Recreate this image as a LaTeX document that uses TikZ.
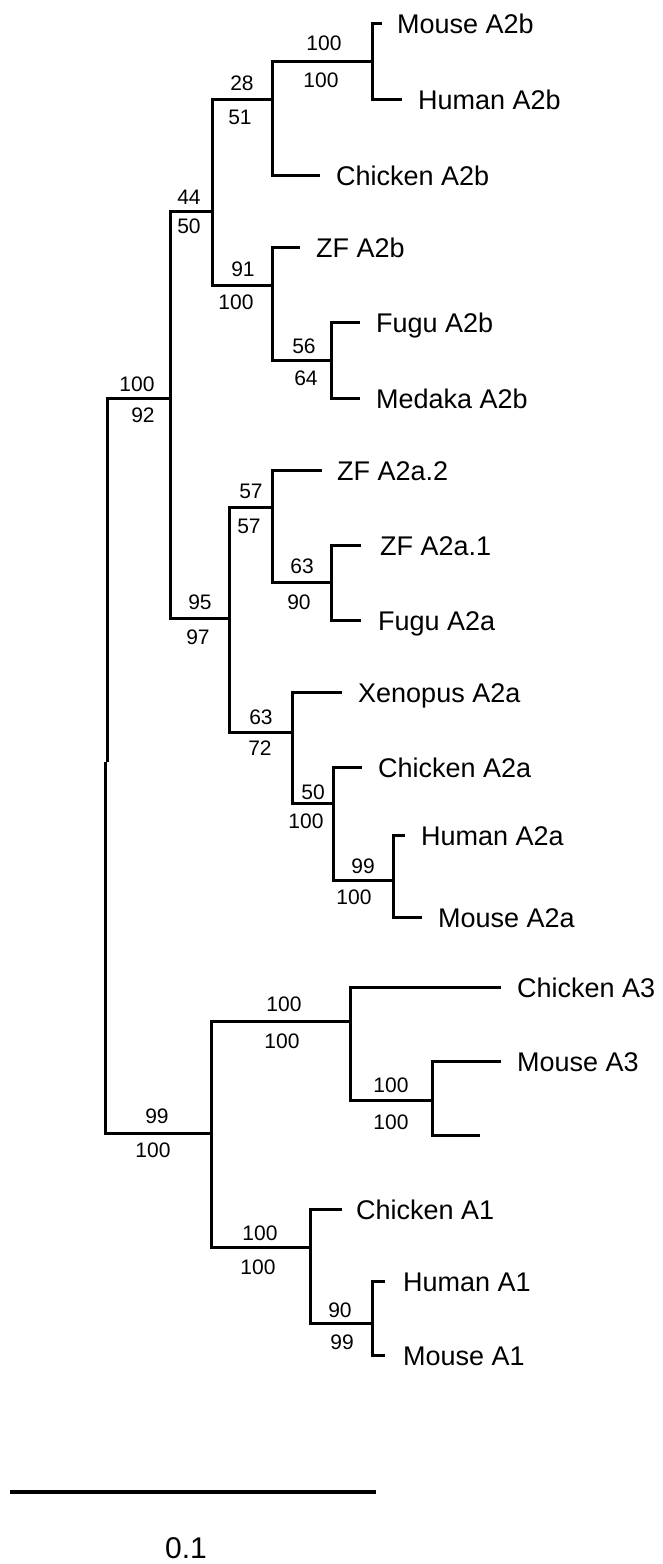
\documentclass[tikz,border=0pt]{standalone}
\usepackage{fontspec}
\setmainfont{Liberation Sans}
\begin{document}
\begin{tikzpicture}[x=1pt,y=-1pt,
  branch/.style={line width=3pt, line join=miter},
  taxon/.style={anchor=base west, inner sep=0pt, font=\fontsize{27}{30}\selectfont},
  boot/.style={anchor=base, inner sep=0pt, font=\fontsize{21}{24}\selectfont}]
\useasboundingbox (0,0) rectangle (663,1564);
% internal nodes
\coordinate (Ra) at (107,762);
\coordinate (Rb) at (105,762);
\coordinate (N1) at (170,398);
\coordinate (N2) at (212,211);
\coordinate (N3) at (272,99);
\coordinate (N4) at (372,61);
\coordinate (N5) at (272,285);
\coordinate (N6) at (331,360);
\coordinate (N8) at (229,618);
\coordinate (N9) at (272,507);
\coordinate (N10) at (331,582);
\coordinate (N11) at (292,732);
\coordinate (N12) at (333,803);
\coordinate (N13) at (393,880);
\coordinate (N14) at (211,1133);
\coordinate (N15) at (350,1021);
\coordinate (N16) at (432,1100);
\coordinate (N17) at (310,1247);
\coordinate (N18) at (372,1323);
% leaves
\coordinate (L1) at (382,23);
\coordinate (L2) at (402,99);
\coordinate (L3) at (320,175);
\coordinate (L4) at (300,247);
\coordinate (L5) at (360,322);
\coordinate (L6) at (360,398);
\coordinate (L7) at (322,470);
\coordinate (L8) at (361,545);
\coordinate (L9) at (361,620);
\coordinate (L10) at (342,692);
\coordinate (L11) at (362,767);
\coordinate (L12) at (405,835);
\coordinate (L13) at (422,917);
\coordinate (L14) at (501,987);
\coordinate (L15) at (501,1061);
\coordinate (L16) at (480,1135);
\coordinate (L17) at (342,1209);
\coordinate (L18) at (385,1281);
\coordinate (L19) at (385,1355);
% branches
\draw[branch] (Ra) |- (N1);
\draw[branch] (Rb) |- (N14);
\draw[branch] (N1) |- (N2);
\draw[branch] (N1) |- (N8);
\draw[branch] (N2) |- (N3);
\draw[branch] (N2) |- (N5);
\draw[branch] (N3) |- (N4);
\draw[branch] (N3) |- (L3);
\draw[branch] (N4) |- (L1);
\draw[branch] (N4) |- (L2);
\draw[branch] (N5) |- (L4);
\draw[branch] (N5) |- (N6);
\draw[branch] (N6) |- (L5);
\draw[branch] (N6) |- (L6);
\draw[branch] (N8) |- (N9);
\draw[branch] (N8) |- (N11);
\draw[branch] (N9) |- (L7);
\draw[branch] (N9) |- (N10);
\draw[branch] (N10) |- (L8);
\draw[branch] (N10) |- (L9);
\draw[branch] (N11) |- (L10);
\draw[branch] (N11) |- (N12);
\draw[branch] (N12) |- (L11);
\draw[branch] (N12) |- (N13);
\draw[branch] (N13) |- (L12);
\draw[branch] (N13) |- (L13);
\draw[branch] (N14) |- (N15);
\draw[branch] (N14) |- (N17);
\draw[branch] (N15) |- (L14);
\draw[branch] (N15) |- (N16);
\draw[branch] (N16) |- (L15);
\draw[branch] (N16) |- (L16);
\draw[branch] (N17) |- (L17);
\draw[branch] (N17) |- (N18);
\draw[branch] (N18) |- (L18);
\draw[branch] (N18) |- (L19);
% taxon labels
\node[taxon] (t1) at ([shift={(15,10)}]L1) {Mouse A2b};
\node[taxon] (t2) at ([shift={(16,10)}]L2) {Human A2b};
\node[taxon] (t3) at ([shift={(16,10)}]L3) {Chicken A2b};
\node[taxon] (t4) at ([shift={(16,10)}]L4) {ZF A2b};
\node[taxon] (t5) at ([shift={(16,10)}]L5) {Fugu A2b};
\node[taxon] (t6) at ([shift={(16,10)}]L6) {Medaka A2b};
\node[taxon] (t7) at ([shift={(15,10)}]L7) {ZF A2a.2};
\node[taxon] (t8) at ([shift={(19,10)}]L8) {ZF A2a.1};
\node[taxon] (t9) at ([shift={(17,10)}]L9) {Fugu A2a};
\node[taxon] (t10) at ([shift={(16,10)}]L10) {Xenopus A2a};
\node[taxon] (t11) at ([shift={(16,10)}]L11) {Chicken A2a};
\node[taxon] (t12) at ([shift={(16,10)}]L12) {Human A2a};
\node[taxon] (t13) at ([shift={(16,10)}]L13) {Mouse A2a};
\node[taxon] (t14) at ([shift={(16,10)}]L14) {Chicken A3};
\node[taxon] (t15) at ([shift={(16,10)}]L15) {Mouse A3};
\node[taxon] (t17) at ([shift={(14,10)}]L17) {Chicken A1};
\node[taxon] (t18) at ([shift={(18,10)}]L18) {Human A1};
\node[taxon] (t19) at ([shift={(18,10)}]L19) {Mouse A1};
% bootstrap values
\node[boot] (b1a) at (324,50.5) {100};
\node[boot] (b1b) at (321,87.5) {100};
\node[boot] (b2a) at (242,90.5) {28};
\node[boot] (b2b) at (240,124.5) {51};
\node[boot] (b3a) at (189,204.5) {44};
\node[boot] (b3b) at (189,233.5) {50};
\node[boot] (b4a) at (243,276.5) {91};
\node[boot] (b4b) at (236,309.5) {100};
\node[boot] (b5a) at (304,353.5) {56};
\node[boot] (b5b) at (306,385.5) {64};
\node[boot] (b6a) at (137,391.5) {100};
\node[boot] (b6b) at (143,422.5) {92};
\node[boot] (b7a) at (200,609.5) {95};
\node[boot] (b7b) at (198,644.5) {97};
\node[boot] (b8a) at (251,498.5) {57};
\node[boot] (b8b) at (249,533.5) {57};
\node[boot] (b9a) at (302,573.5) {63};
\node[boot] (b9b) at (299,609.5) {90};
\node[boot] (b10a) at (261,724.5) {63};
\node[boot] (b10b) at (260,755.5) {72};
\node[boot] (b11a) at (313,799.5) {50};
\node[boot] (b11b) at (306,828.5) {100};
\node[boot] (b12a) at (363,873.5) {99};
\node[boot] (b12b) at (354,904.5) {100};
\node[boot] (b13a) at (157,1123.5) {99};
\node[boot] (b13b) at (153,1157.5) {100};
\node[boot] (b14a) at (284,1011.5) {100};
\node[boot] (b14b) at (282,1048.5) {100};
\node[boot] (b15a) at (391,1092.5) {100};
\node[boot] (b15b) at (391,1129.5) {100};
\node[boot] (b16a) at (260,1240.5) {100};
\node[boot] (b16b) at (258,1274.5) {100};
\node[boot] (b17a) at (340,1317.5) {90};
\node[boot] (b17b) at (342,1349.5) {99};
% scale bar
\coordinate (s0) at (10,1492);
\coordinate (s1) at (376,1492);
\draw[line width=3.5pt] (s0) -- (s1);
\node[anchor=base, inner sep=0pt, font=\fontsize{30}{33}\selectfont] (scale) at (186,1558) {0.1};
\end{tikzpicture}
\end{document}
